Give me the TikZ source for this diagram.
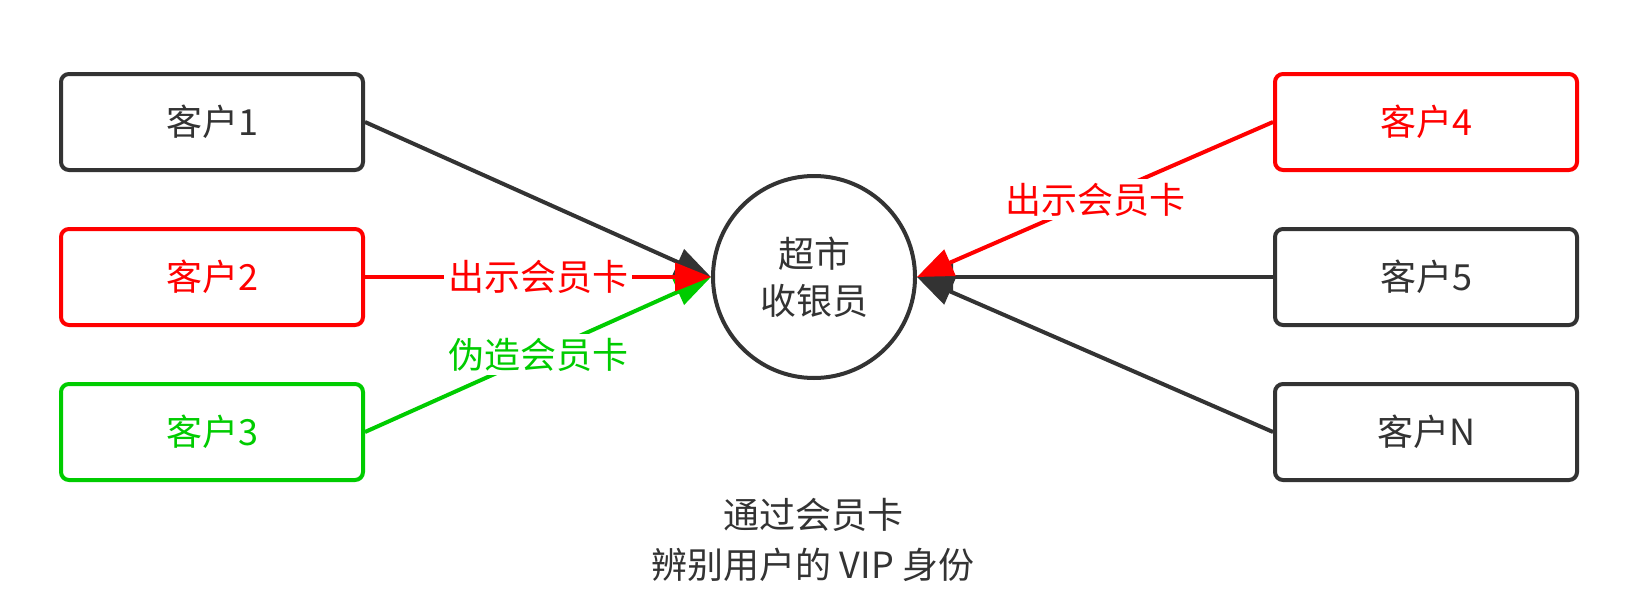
\documentclass[tikz,border=0pt]{standalone}
\usepackage{fontspec}
\setmainfont{Noto Sans CJK SC}
\usetikzlibrary{arrows.meta}
\definecolor{dk}{HTML}{333333}
\definecolor{rd}{HTML}{FF0000}
\definecolor{gn}{HTML}{00CC00}
\begin{document}
\begin{tikzpicture}[x=1pt,y=-1pt,
  box/.style={draw, line width=4pt, rounded corners=8pt, minimum width=302pt, minimum height=96pt, fill=white, inner sep=0pt, font=\fontsize{36}{44}\selectfont},
  hub/.style={draw=dk, circle, line width=4pt, minimum size=202pt, inner sep=0pt, fill=white, align=center, text=dk, font=\fontsize{36}{47}\selectfont},
  conn/.style={line width=4pt, -{Triangle[length=36pt,width=28pt]}},
  elabel/.style={midway, fill=white, inner sep=4pt, font=\fontsize{36}{44}\selectfont},
  note/.style={align=center, text=dk, font=\fontsize{36}{50}\selectfont}]
\fill[white] (0,0) rectangle (1632,594);
\useasboundingbox (0,0) rectangle (1632,594);
\node[box, draw=dk, text=dk] (c1) at (212,122) {客户1};
\node[box, draw=rd, text=rd] (c2) at (212,277) {客户2};
\node[box, draw=gn, text=gn] (c3) at (212,432) {客户3};
\node[box, draw=rd, text=rd] (c4) at (1426,122) {客户4};
\node[box, draw=dk, text=dk] (c5) at (1426,277) {客户5};
\node[box, draw=dk, text=dk] (cn) at (1426,432) {客户N};
\node[hub] (h) at (814,277) {超市\\收银员};
\draw[conn, dk] (c1.east) -- (h.west);
\draw[conn, gn] (c3.east) -- node[elabel, text=gn] {伪造会员卡} (h.west);
\draw[conn, rd] (c2.east) -- node[elabel, text=rd] {出示会员卡} (h.west);
\draw[conn, dk] (cn.west) -- (h.east);
\draw[conn, dk] (c5.west) -- (h.east);
\draw[conn, rd] (c4.west) -- node[elabel, text=rd] {出示会员卡} (h.east);
\node[note] (t) at (813,540) {通过会员卡\\辨别用户的 VIP 身份};
\end{tikzpicture}
\end{document}
